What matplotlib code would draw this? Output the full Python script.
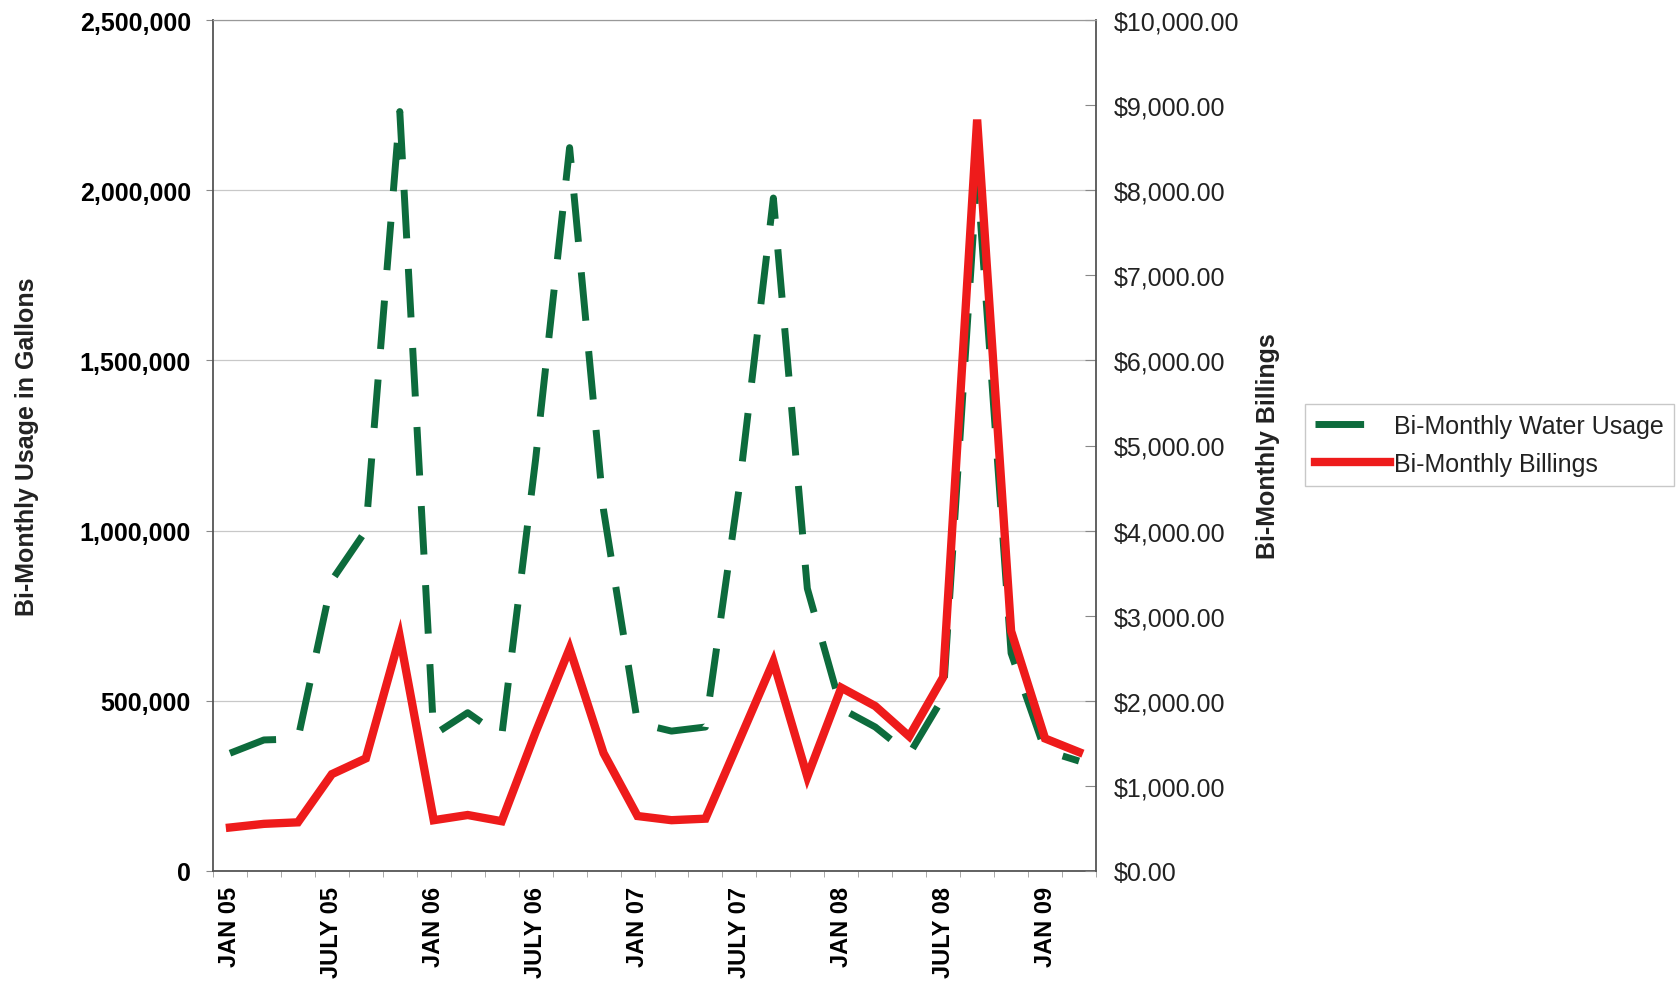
import matplotlib
matplotlib.use("Agg")
import matplotlib.pyplot as plt
from matplotlib.ticker import FuncFormatter, MultipleLocator, FixedLocator

plt.rcParams["font.family"] = ["Liberation Sans", "DejaVu Sans"]

# bi-monthly periods, JAN 05 .. MAR 09
periods = ["JAN 05", "MAR 05", "MAY 05", "JULY 05", "SEP 05", "NOV 05",
           "JAN 06", "MAR 06", "MAY 06", "JULY 06", "SEP 06", "NOV 06",
           "JAN 07", "MAR 07", "MAY 07", "JULY 07", "SEP 07", "NOV 07",
           "JAN 08", "MAR 08", "MAY 08", "JULY 08", "SEP 08", "NOV 08",
           "JAN 09", "MAR 09"]
label_every = 3

# gallons
water_usage = [346e3, 385e3, 388e3, 854e3, 1000e3, 2231e3,
               400e3, 465e3, 395e3, 1210e3, 2125e3, 1060e3,
               435e3, 411e3, 423e3, 1130e3, 1977e3, 830e3,
               477e3, 423e3, 343e3, 510e3, 2050e3, 640e3,
               354e3, 323e3]
# dollars
billings = [511, 554, 572, 1138, 1323, 2751,
            597, 658, 585, 1631, 2615, 1385,
            646, 597, 615, 1538, 2462, 1108,
            2154, 1938, 1582, 2277, 8830, 2820,
            1557, 1397]

GREEN = "#0d6b3c"
RED = "#ee1b1b"

x = list(range(len(periods)))

fig = plt.figure(figsize=(16.78, 9.95), dpi=100)
ax = fig.add_axes([213/1678, 1 - 872/995, (1096-213)/1678, (872-21)/995])
ax2 = ax.twinx()

l1, = ax.plot(x, water_usage, color=GREEN, lw=5.0, dashes=(7.0, 4.4),
              dash_capstyle="butt", solid_joinstyle="miter",
              label="Bi-Monthly Water Usage", zorder=3)
l2, = ax2.plot(x, billings, color=RED, lw=6.0, solid_joinstyle="miter",
               label="Bi-Monthly Billings", zorder=4)

ax.set_xlim(-0.5, len(periods) - 0.5)
ax.set_ylim(0, 2_500_000)
ax2.set_ylim(0, 10_000)

ax.yaxis.set_major_locator(MultipleLocator(500_000))
ax.yaxis.set_major_formatter(FuncFormatter(lambda v, p: f"{v:,.0f}"))
ax2.yaxis.set_major_locator(MultipleLocator(1000))
ax2.yaxis.set_major_formatter(FuncFormatter(lambda v, p: f"${v:,.2f}"))

ax.grid(axis="y", color="#c8c8c8", lw=0.9)
ax.set_axisbelow(True)

# x labels every 3rd period, tick marks between categories
ax.xaxis.set_major_locator(FixedLocator(x[::label_every]))
ax.set_xticklabels(periods[::label_every], rotation=90, fontweight="bold", fontsize=17)
ax.xaxis.set_minor_locator(FixedLocator([i - 0.5 for i in range(len(periods) + 1)]))
ax.tick_params(axis="x", which="major", length=0, pad=11)
ax.tick_params(axis="x", which="minor", length=4, color="#999999", direction="out")

ax.tick_params(axis="y", length=5, pad=11, labelsize=18, color="#888888")
for t in ax.get_yticklabels():
    t.set_fontweight("bold")
ax2.tick_params(axis="y", direction="in", length=8, pad=13, labelsize=18,
                color="#888888", labelcolor="#222222")

for s in ("left", "bottom"):
    ax.spines[s].set_color("#555555")
    ax.spines[s].set_linewidth(1.3)
ax2.spines["right"].set_color("#555555")
ax2.spines["right"].set_linewidth(1.3)
ax2.spines["top"].set_color("#999999")
ax2.spines["left"].set_visible(False)
ax2.spines["bottom"].set_visible(False)
ax.spines["top"].set_color("#999999")
ax.spines["right"].set_visible(False)

ax.set_ylabel("Bi-Monthly Usage in Gallons", fontsize=18, fontweight="bold", color="#222222")
ax.yaxis.set_label_coords(-0.197, 0.5)
ax2.set_ylabel("Bi-Monthly Billings", fontsize=18, fontweight="bold", color="#222222")
ax2.yaxis.set_label_coords(1.181, 0.5)

leg = fig.legend(handles=[l1, l2], loc="upper left",
                 bbox_to_anchor=(1305/1678, 1 - 405/995),
                 fontsize=18, frameon=True, fancybox=False, edgecolor="#bbbbbb",
                 handlelength=3.0, handletextpad=0.15, labelspacing=0.55,
                 borderpad=0.4, borderaxespad=0)
leg.get_frame().set_linewidth(1.0)
for t in leg.get_texts():
    t.set_color("#222222")

fig.savefig("out.png", dpi=100, facecolor="white")
